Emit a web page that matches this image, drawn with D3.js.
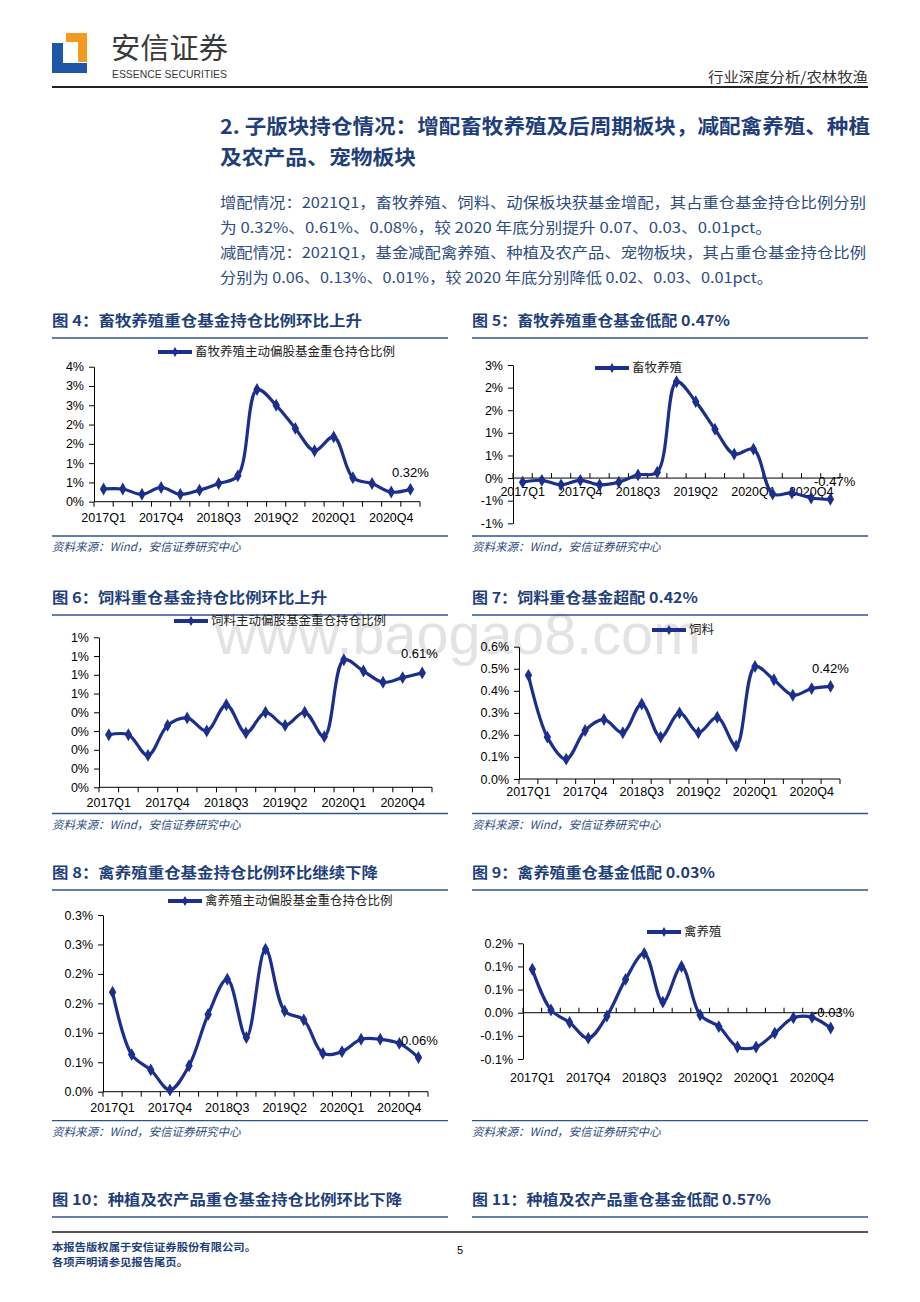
<!DOCTYPE html>
<html>
<head>
<meta charset="utf-8">
<script src="https://cdnjs.cloudflare.com/ajax/libs/d3/7.8.5/d3.min.js"></script>
<style>
  body { margin: 0; background: #fff; }
  svg text { font-family: "Liberation Sans", Arial, sans-serif; }
  .cjk { font-family: "Noto Sans CJK SC", sans-serif; }
</style>
</head>
<body>
<svg id="page" width="920" height="1302"></svg>
<script>
(function () {

    // ---- data ----
    var quarters = ["2017Q1", "2017Q2", "2017Q3", "2017Q4", "2018Q1", "2018Q2", "2018Q3", "2018Q4",
        "2019Q1", "2019Q2", "2019Q3", "2019Q4", "2020Q1", "2020Q2", "2020Q3", "2020Q4", "2021Q1"];
    var shownQuarters = ["2017Q1", "2017Q4", "2018Q3", "2019Q2", "2020Q1", "2020Q4"];

    // % of active equity funds' heavy holdings
    var livestockShare = [0.33, 0.33, 0.19, 0.37, 0.19, 0.30, 0.47, 0.67, 2.91, 2.50, 1.90, 1.32, 1.68, 0.62, 0.47, 0.25, 0.32];
    var livestockGap = [-0.09, -0.05, -0.15, -0.05, -0.15, -0.09, 0.07, 0.13, 2.13, 1.69, 1.08, 0.53, 0.64, -0.35, -0.33, -0.44, -0.47];
    var feedShare = [0.28, 0.28, 0.17, 0.33, 0.37, 0.30, 0.44, 0.29, 0.40, 0.33, 0.40, 0.27, 0.68, 0.62, 0.56, 0.585, 0.61];
    var feedGap = [0.47, 0.19, 0.09, 0.22, 0.27, 0.21, 0.34, 0.19, 0.30, 0.21, 0.28, 0.15, 0.51, 0.45, 0.38, 0.41, 0.42];
    var poultryShare = [0.169, 0.063, 0.037, 0.003, 0.044, 0.131, 0.191, 0.092, 0.242, 0.137, 0.122, 0.065, 0.068, 0.089, 0.089, 0.082, 0.058];
    var poultryGap = [0.094, 0.006, -0.021, -0.055, -0.007, 0.072, 0.128, 0.023, 0.10, -0.005, -0.030, -0.074, -0.074, -0.044, -0.011, -0.010, -0.033];

    var ticks4 = [0, 0.5, 1, 1.5, 2, 2.5, 3, 3.5];
    var tickLabels4 = ["0%", "1%", "1%", "2%", "2%", "3%", "3%", "4%"];
    var ticks5 = [-1, -0.5, 0, 0.5, 1, 1.5, 2, 2.5];
    var tickLabels5 = ["-1%", "-1%", "0%", "1%", "1%", "2%", "2%", "3%"];
    var ticks6 = [0, 0.1, 0.2, 0.3, 0.4, 0.5, 0.6, 0.7, 0.8];
    var tickLabels6 = ["0%", "0%", "0%", "0%", "0%", "1%", "1%", "1%", "1%"];
    var ticks7 = [0, 0.1, 0.2, 0.3, 0.4, 0.5, 0.6];
    var tickLabels7 = ["0.0%", "0.1%", "0.2%", "0.3%", "0.4%", "0.5%", "0.6%"];
    var ticks8 = [0, 0.05, 0.1, 0.15, 0.2, 0.25, 0.3];
    var tickLabels8 = ["0.0%", "0.1%", "0.1%", "0.2%", "0.2%", "0.3%", "0.3%"];
    var ticks9 = [-0.1, -0.05, 0, 0.05, 0.1, 0.15];
    var tickLabels9 = ["-0.1%", "-0.1%", "0.0%", "0.1%", "0.1%", "0.2%"];

    var svg = d3.select("#page"),
        navy = "#1f3f7a",
        lineBlue = "#1b2f8c",
        ruleBlue = "#2c5394",
        textBlue = "#2d4c82";

    // ---- page furniture ----
    var logo = svg.append("g");
    logo.append("path").attr("fill", "#1f57a8")
        .attr("d", "M52,43 H63 V63 H87 V73 H52 Z");
    logo.append("path").attr("fill", "#f39b20")
        .attr("d", "M66,33 H87 V62 H78 V42 H66 Z");
    svg.append("text").attr("class", "cjk")
        .attr("x", 111).attr("y", 59)
        .attr("font-size", 29).attr("fill", "#3a3a3a")
        .attr("textLength", 117).attr("lengthAdjust", "spacingAndGlyphs")
        .text("安信证券");
    svg.append("text")
        .attr("x", 112).attr("y", 78)
        .style("font-family", "'Liberation Sans Narrow', 'Liberation Sans', sans-serif")
        .attr("font-size", 11.5).attr("fill", "#3a3a3a")
        .attr("textLength", 115).attr("lengthAdjust", "spacingAndGlyphs")
        .text("ESSENCE SECURITIES");
    svg.append("text").attr("class", "cjk")
        .attr("x", 868).attr("y", 82).attr("text-anchor", "end")
        .attr("font-size", 14).attr("fill", "#333")
        .attr("textLength", 160).attr("lengthAdjust", "spacingAndGlyphs")
        .text("行业深度分析/农林牧渔");
    svg.append("line").attr("x1", 52).attr("x2", 868).attr("y1", 87).attr("y2", 87)
        .attr("stroke", "#222").attr("stroke-width", 2);

    // watermark
    svg.append("text")
        .attr("x", 215).attr("y", 654)
        .attr("font-size", 57).attr("fill", "#e3e3e3")
        .attr("textLength", 486).attr("lengthAdjust", "spacingAndGlyphs")
        .text("www.baogao8.com");

    // section heading + text
    var heading = [
        {t: "2. 子版块持仓情况：增配畜牧养殖及后周期板块，减配禽养殖、种植", y: 134, w: 650},
        {t: "及农产品、宠物板块", y: 165, w: 196}
    ];
    heading.forEach(function (h) {
        svg.append("text").attr("class", "cjk")
            .attr("x", 220).attr("y", h.y)
            .attr("font-size", 20).attr("font-weight", "bold").attr("fill", navy)
            .attr("textLength", h.w).attr("lengthAdjust", "spacingAndGlyphs")
            .text(h.t);
    });
    var para = [
        {t: "增配情况：2021Q1，畜牧养殖、饲料、动保板块获基金增配，其占重仓基金持仓比例分别", y: 208, w: 646},
        {t: "为 0.32%、0.61%、0.08%，较 2020 年底分别提升 0.07、0.03、0.01pct。", y: 233, w: 552},
        {t: "减配情况：2021Q1，基金减配禽养殖、种植及农产品、宠物板块，其占重仓基金持仓比例", y: 258, w: 646},
        {t: "分别为 0.06、0.13%、0.01%，较 2020 年底分别降低 0.02、0.03、0.01pct。", y: 283, w: 553}
    ];
    para.forEach(function (p) {
        svg.append("text").attr("class", "cjk")
            .attr("x", 220).attr("y", p.y)
            .attr("font-size", 14.5).attr("fill", textBlue)
            .attr("textLength", p.w).attr("lengthAdjust", "spacingAndGlyphs")
            .text(p.t);
    });

    function figTitle(x, y, w, t) {
        svg.append("text").attr("class", "cjk")
            .attr("x", x).attr("y", y)
            .attr("font-size", 14.5).attr("font-weight", "bold").attr("fill", navy)
            .attr("textLength", w).attr("lengthAdjust", "spacingAndGlyphs")
            .text(t);
        svg.append("line").attr("x1", x).attr("x2", x + 396)
            .attr("y1", y + 12).attr("y2", y + 12)
            .attr("stroke", ruleBlue).attr("stroke-width", 1.6);
    }

    function source(x, y) {
        svg.append("line").attr("x1", x).attr("x2", x + 396)
            .attr("y1", y).attr("y2", y)
            .attr("stroke", ruleBlue).attr("stroke-width", 1.3);
        svg.append("text").attr("class", "cjk")
            .attr("x", x).attr("y", y + 15)
            .attr("font-size", 11.5).attr("fill", textBlue)
            .attr("font-style", "italic")
            .attr("transform", "skewX(0)")
            .text("资料来源：Wind，安信证券研究中心");
    }

    function legend(x, y, label) {
        var g = svg.append("g");
        g.append("line").attr("x1", x).attr("x2", x + 34).attr("y1", y).attr("y2", y)
            .attr("stroke", lineBlue).attr("stroke-width", 4);
        g.append("path")
            .attr("transform", "translate(" + (x + 17) + "," + y + ")")
            .attr("d", d3.symbol().type(d3.symbolDiamond).size(30))
            .attr("fill", lineBlue);
        g.append("text").attr("class", "cjk")
            .attr("x", x + 37).attr("y", y).attr("dy", "0.35em")
            .attr("font-size", 12.5).attr("fill", "#222")
            .text(label);
    }

    function chart(o) {
        var x = d3.scaleBand().domain(quarters).range([o.left, o.right]),
            y = d3.scaleLinear().domain(o.domain).range([o.bottom, o.top]),
            bw = x.bandwidth(),
            base = o.domain[0] < 0 ? y(0) : o.bottom,
            g = svg.append("g");

        // y axis
        var ya = g.append("g")
            .attr("transform", "translate(" + o.left + ",0)")
            .call(d3.axisLeft(y).tickValues(o.ticks)
                .tickFormat(function (d, i) { return o.tickLabels[i]; })
                .tickSize(5).tickSizeOuter(0).tickPadding(5));
        ya.selectAll("text").attr("font-size", 12.5).attr("fill", "#000")
            .style("font-family", "'Liberation Sans', Arial, sans-serif");
        ya.selectAll("line, path").attr("stroke", "#000").attr("stroke-width", 1);

        // x axis line with boundary ticks
        g.append("line").attr("x1", o.left).attr("x2", o.right)
            .attr("y1", base).attr("y2", base)
            .attr("stroke", "#000").attr("stroke-width", 1);
        g.selectAll("line.xt")
            .data(quarters.concat(["end"]))
            .enter().append("line")
            .attr("class", "xt")
            .attr("x1", function (d) { return d === "end" ? o.right : x(d); })
            .attr("x2", function (d) { return d === "end" ? o.right : x(d); })
            .attr("y1", base)
            .attr("y2", base + o.tickDir * 5)
            .attr("stroke", "#000");

        // x labels
        var xa = g.append("g")
            .attr("transform", "translate(0," + o.labelY + ")")
            .call(d3.axisBottom(x).tickValues(shownQuarters).tickSize(0).tickPadding(0));
        xa.select(".domain").remove();
        xa.selectAll("text").attr("dy", "0.35em").attr("font-size", 12.5).attr("fill", "#000")
            .style("font-family", "'Liberation Sans', Arial, sans-serif");

        // series
        var line = d3.line()
            .x(function (d, i) { return x(quarters[i]) + bw / 2; })
            .y(function (d) { return y(d); })
            .curve(d3.curveCatmullRom.alpha(0.5));
        g.append("path").datum(o.values)
            .attr("d", line)
            .attr("fill", "none")
            .attr("stroke", lineBlue)
            .attr("stroke-width", 3.2)
            .attr("stroke-linejoin", "round");
        g.selectAll("path.mk").data(o.values)
            .enter().append("path")
            .attr("class", "mk")
            .attr("transform", function (d, i) {
                return "translate(" + (x(quarters[i]) + bw / 2) + "," + y(d) + ")";
            })
            .attr("d", d3.symbol().type(d3.symbolDiamond).size(48))
            .attr("fill", lineBlue);

        legend(o.legendX, o.legendY, o.legend);

        g.append("text")
            .attr("x", o.endX).attr("y", o.endY).attr("dy", "0.35em")
            .attr("font-size", 13).attr("fill", "#000")
            .text(o.endLabel);
    }

    // ---- figure 4 / 5 ----
    figTitle(52, 326, 310, "图 4：畜牧养殖重仓基金持仓比例环比上升");
    figTitle(472, 326, 258, "图 5：畜牧养殖重仓基金低配 0.47%");
    chart({
        values: livestockShare, ticks: ticks4, tickLabels: tickLabels4,
        domain: [0, 3.5], left: 94, right: 420, top: 366.7, bottom: 501.7,
        labelY: 518, tickDir: 1,
        legend: "畜牧养殖主动偏股基金重仓持仓比例", legendX: 158, legendY: 352,
        endLabel: "0.32%", endX: 392, endY: 472
    });
    chart({
        values: livestockGap, ticks: ticks5, tickLabels: tickLabels5,
        domain: [-1, 2.5], left: 513, right: 840, top: 365, bottom: 523.3,
        labelY: 492, tickDir: -1,
        legend: "畜牧养殖", legendX: 595, legendY: 368,
        endLabel: "-0.47%", endX: 814, endY: 481
    });
    source(52, 536);
    source(472, 536);

    // ---- figure 6 / 7 ----
    figTitle(52, 603, 275, "图 6：饲料重仓基金持仓比例环比上升");
    figTitle(472, 603, 226, "图 7：饲料重仓基金超配 0.42%");
    chart({
        values: feedShare, ticks: ticks6, tickLabels: tickLabels6,
        domain: [0, 0.8], left: 99, right: 432, top: 637.3, bottom: 787.3,
        labelY: 803, tickDir: 1,
        legend: "饲料主动偏股基金重仓持仓比例", legendX: 174, legendY: 621,
        endLabel: "0.61%", endX: 401, endY: 653
    });
    chart({
        values: feedGap, ticks: ticks7, tickLabels: tickLabels7,
        domain: [0, 0.6], left: 519, right: 840, top: 646.7, bottom: 779,
        labelY: 792, tickDir: 1,
        legend: "饲料", legendX: 652, legendY: 630,
        endLabel: "0.42%", endX: 812, endY: 668
    });
    source(52, 813.5);
    source(472, 813.5);

    // ---- figure 8 / 9 ----
    figTitle(52, 878, 326, "图 8：禽养殖重仓基金持仓比例环比继续下降");
    figTitle(472, 878, 243, "图 9：禽养殖重仓基金低配 0.03%");
    chart({
        values: poultryShare, ticks: ticks8, tickLabels: tickLabels8,
        domain: [0, 0.3], left: 103, right: 428, top: 915, bottom: 1091.7,
        labelY: 1108, tickDir: 1,
        legend: "禽养殖主动偏股基金重仓持仓比例", legendX: 168, legendY: 901,
        endLabel: "0.06%", endX: 401, endY: 1040
    });
    chart({
        values: poultryGap, ticks: ticks9, tickLabels: tickLabels9,
        domain: [-0.1, 0.15], left: 523, right: 840, top: 943.3, bottom: 1059,
        labelY: 1078, tickDir: -1,
        legend: "禽养殖", legendX: 647, legendY: 932,
        endLabel: "-0.03%", endX: 813, endY: 1012
    });
    source(52, 1120.7);
    source(472, 1120.7);

    // ---- figure 10 / 11 headings ----
    figTitle(52, 1205, 350, "图 10：种植及农产品重仓基金持仓比例环比下降");
    figTitle(472, 1205, 299, "图 11：种植及农产品重仓基金低配 0.57%");

    // ---- footer ----
    svg.append("line").attr("x1", 52).attr("x2", 868).attr("y1", 1232).attr("y2", 1232)
        .attr("stroke", "#555").attr("stroke-width", 2);
    svg.append("text").attr("class", "cjk")
        .attr("x", 52).attr("y", 1251)
        .attr("font-size", 10.5).attr("font-weight", "bold").attr("fill", navy)
        .attr("textLength", 204).attr("lengthAdjust", "spacingAndGlyphs")
        .text("本报告版权属于安信证券股份有限公司。");
    svg.append("text").attr("class", "cjk")
        .attr("x", 52).attr("y", 1266)
        .attr("font-size", 10.5).attr("font-weight", "bold").attr("fill", navy)
        .attr("textLength", 136).attr("lengthAdjust", "spacingAndGlyphs")
        .text("各项声明请参见报告尾页。");
    svg.append("text")
        .attr("x", 460).attr("y", 1254).attr("text-anchor", "middle")
        .attr("font-size", 11).attr("fill", "#000")
        .text("5");

}());
</script>
</body>
</html>
